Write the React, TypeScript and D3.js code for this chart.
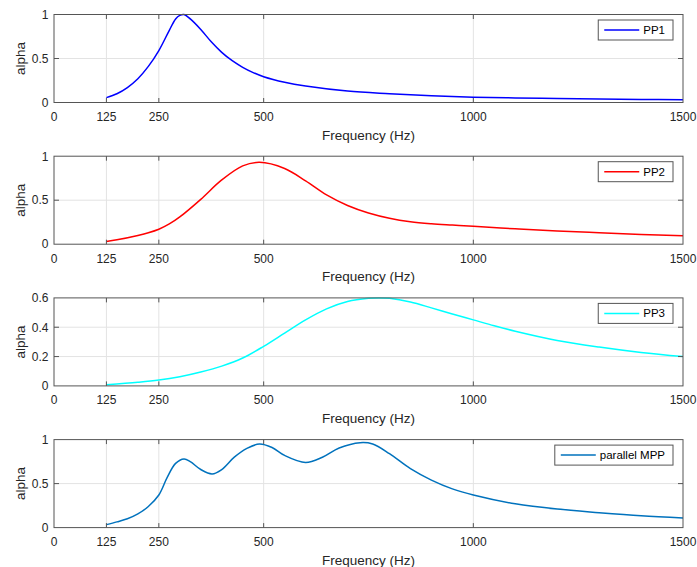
import * as d3 from "d3";
import { useEffect, useRef } from "react";

// ---- data ----
const xTicks = [0, 125, 250, 500, 1000, 1500];

const pp1Freq = [125, 150, 175, 200, 225, 250, 275, 290, 300, 310, 325, 350, 375, 400, 425, 450, 475, 500, 550, 600, 700, 800, 900, 1000, 1100, 1200, 1300, 1400, 1500];
const pp1Alpha = [0.055, 0.1, 0.17, 0.27, 0.41, 0.59, 0.82, 0.95, 0.99, 1.0, 0.95, 0.83, 0.69, 0.57, 0.475, 0.4, 0.34, 0.293, 0.23, 0.187, 0.13, 0.1, 0.076, 0.06, 0.052, 0.045, 0.04, 0.035, 0.03];

const pp2Freq = [125, 150, 200, 225, 250, 275, 300, 350, 400, 450, 490, 550, 600, 650, 700, 750, 800, 850, 900, 950, 1000, 1100, 1200, 1300, 1400, 1500];
const pp2Alpha = [0.03, 0.05, 0.1, 0.13, 0.17, 0.23, 0.31, 0.51, 0.73, 0.89, 0.93, 0.86, 0.72, 0.56, 0.44, 0.355, 0.295, 0.255, 0.232, 0.217, 0.203, 0.175, 0.15, 0.13, 0.111, 0.095];

const pp3Freq = [125, 200, 250, 300, 350, 400, 450, 500, 550, 600, 650, 700, 750, 775, 800, 850, 900, 950, 1000, 1050, 1100, 1200, 1300, 1400, 1500];
const pp3Alpha = [0.008, 0.025, 0.04, 0.063, 0.095, 0.135, 0.19, 0.27, 0.36, 0.45, 0.525, 0.575, 0.597, 0.6, 0.597, 0.572, 0.532, 0.49, 0.45, 0.41, 0.373, 0.31, 0.265, 0.228, 0.2];

const mppFreq = [125, 150, 175, 200, 225, 250, 270, 290, 310, 325, 350, 377, 400, 430, 460, 490, 520, 550, 600, 640, 680, 730, 760, 800, 850, 900, 950, 1000, 1100, 1200, 1300, 1400, 1500];
const mppAlpha = [0.034, 0.065, 0.1, 0.155, 0.24, 0.37, 0.57, 0.73, 0.78, 0.75, 0.66, 0.61, 0.66, 0.8, 0.9, 0.95, 0.91, 0.82, 0.74, 0.8, 0.905, 0.965, 0.95, 0.84, 0.67, 0.54, 0.44, 0.37, 0.27, 0.21, 0.17, 0.135, 0.11];

const seriesNames = ["PP1", "PP2", "PP3", "parallel MPP"];
const seriesFreqs = [pp1Freq, pp2Freq, pp3Freq, mppFreq];
const seriesAlphas = [pp1Alpha, pp2Alpha, pp3Alpha, mppAlpha];
const yTickSets = [[0, 0.5, 1], [0, 0.5, 1], [0, 0.2, 0.4, 0.6], [0, 0.5, 1]];

// ---- styles ----
const seriesColors = ["#0000ff", "#ff0000", "#00ffff", "#0072bd"];
const FONT = "'Liberation Sans', Arial, Helvetica, sans-serif";

export default function App() {
  const ref = useRef<SVGSVGElement | null>(null);

  useEffect(() => {
    const width = 697;
    const height = 567;
    const left = 54;
    const right = 683;
    const panelH = 88;
    const firstTop = 14.5;
    const step = 141.7;

    const svg = d3.select(ref.current).attr("width", width).attr("height", height);
    svg.selectAll("*").remove();
    svg.append("rect").attr("width", width).attr("height", height).attr("fill", "#fff");

    const x = d3.scaleLinear().domain([0, 1500]).range([left, right]);

    seriesNames.forEach((name, i) => {
      const top = firstTop + i * step;
      const yTicks = yTickSets[i];
      const yMax = yTicks[yTicks.length - 1];
      const y = d3.scaleLinear().domain([0, yMax]).range([panelH, 0]);

      const g = svg.append("g").attr("transform", `translate(0,${top})`);

      // grid
      g.append("g")
        .attr("stroke", "#e3e3e3")
        .attr("stroke-width", 1)
        .selectAll("line")
        .data(xTicks.filter((d) => d > 0 && d < 1500))
        .join("line")
        .attr("x1", (d) => x(d))
        .attr("x2", (d) => x(d))
        .attr("y1", 0)
        .attr("y2", panelH);

      g.append("g")
        .attr("stroke", "#e3e3e3")
        .attr("stroke-width", 1)
        .selectAll("line")
        .data(yTicks.filter((d) => d > 0 && d < yMax))
        .join("line")
        .attr("x1", left)
        .attr("x2", right)
        .attr("y1", (d) => y(d))
        .attr("y2", (d) => y(d));

      // curve
      const line = d3
        .line<number>()
        .x((_, j) => x(seriesFreqs[i][j]))
        .y((d) => y(d))
        .curve(d3.curveCatmullRom.alpha(0.5));

      g.append("path")
        .datum(seriesAlphas[i])
        .attr("fill", "none")
        .attr("stroke", seriesColors[i])
        .attr("stroke-width", 1.5)
        .attr("d", line);

      // ticks (inside, all four sides)
      const tk = g.append("g").attr("stroke", "#555").attr("stroke-width", 1);
      xTicks.filter((d) => d > 0 && d < 1500).forEach((d) => {
        tk.append("line").attr("x1", x(d)).attr("x2", x(d)).attr("y1", panelH).attr("y2", panelH - 4.5);
        tk.append("line").attr("x1", x(d)).attr("x2", x(d)).attr("y1", 0).attr("y2", 4.5);
      });
      yTicks.filter((d) => d > 0 && d < yMax).forEach((d) => {
        tk.append("line").attr("x1", left).attr("x2", left + 5).attr("y1", y(d)).attr("y2", y(d));
        tk.append("line").attr("x1", right).attr("x2", right - 5).attr("y1", y(d)).attr("y2", y(d));
      });

      // box
      g.append("rect")
        .attr("x", left)
        .attr("y", 0)
        .attr("width", right - left)
        .attr("height", panelH)
        .attr("fill", "none")
        .attr("stroke", "#555")
        .attr("stroke-width", 1);

      // tick labels
      g.append("g")
        .selectAll("text")
        .data(xTicks)
        .join("text")
        .attr("x", (d) => x(d))
        .attr("y", panelH + 18.5)
        .attr("text-anchor", "middle")
        .attr("font-family", FONT)
        .attr("font-size", 12)
        .attr("fill", "#262626")
        .text((d) => String(d));

      g.append("g")
        .selectAll("text")
        .data(yTicks)
        .join("text")
        .attr("x", left - 5.5)
        .attr("y", (d) => y(d) + 4.3)
        .attr("text-anchor", "end")
        .attr("font-family", FONT)
        .attr("font-size", 12)
        .attr("fill", "#262626")
        .text((d) => String(d));

      // axis titles
      g.append("text")
        .attr("x", (left + right) / 2)
        .attr("y", panelH + 37)
        .attr("text-anchor", "middle")
        .attr("font-family", FONT)
        .attr("font-size", 13.5)
        .attr("fill", "#262626")
        .text("Frequency (Hz)");

      g.append("text")
        .attr("transform", `translate(24.5,${panelH / 2}) rotate(-90)`)
        .attr("text-anchor", "middle")
        .attr("font-family", FONT)
        .attr("font-size", 13.5)
        .attr("fill", "#262626")
        .text("alpha");

      // legend
      const lg = g.append("g");
      const legRight = right - 10;
      const legTop = 5.5;
      const legH = 20;
      const label = lg
        .append("text")
        .attr("y", legTop + legH / 2 + 4)
        .attr("font-family", FONT)
        .attr("font-size", 11.5)
        .attr("fill", "#000")
        .text(name);
      const tw = (label.node() as SVGTextElement).getComputedTextLength();
      const textX = legRight - 8 - tw;
      label.attr("x", textX);
      const lineEnd = textX - 4;
      const lineStart = lineEnd - 35;
      const boxLeft = lineStart - 6;
      lg.insert("rect", "text")
        .attr("x", boxLeft)
        .attr("y", legTop)
        .attr("width", legRight - boxLeft)
        .attr("height", legH)
        .attr("fill", "#fff")
        .attr("stroke", "#555")
        .attr("stroke-width", 1);
      lg.append("line")
        .attr("x1", lineStart)
        .attr("x2", lineEnd)
        .attr("y1", legTop + legH / 2)
        .attr("y2", legTop + legH / 2)
        .attr("stroke", seriesColors[i])
        .attr("stroke-width", 1.5);
    });
  }, []);

  return <svg ref={ref} style={{ position: "absolute", left: 0, top: 0, display: "block" }} />;
}
